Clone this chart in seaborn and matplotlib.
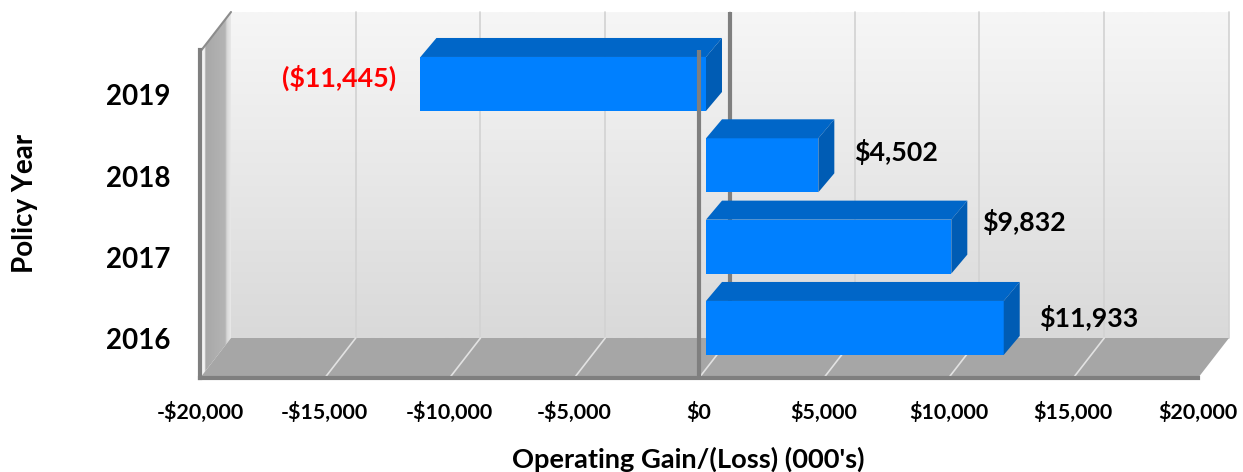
import numpy as np
import pandas as pd
import seaborn as sns
import matplotlib.pyplot as plt
from matplotlib.colors import LinearSegmentedColormap
from matplotlib.patches import Polygon
from matplotlib.transforms import ScaledTranslation, IdentityTransform

# values
years = ["2019", "2018", "2017", "2016"]
gains = [-11445, 4502, 9832, 11933]
bar_labels = ["($11,445)", "$4,502", "$9,832", "$11,933"]
label_colors = ["#ff0000", "#000000", "#000000", "#000000"]
x_ticks = [-20000, -15000, -10000, -5000, 0, 5000, 10000, 15000, 20000]
x_tick_labels = ["-$20,000", "-$15,000", "-$10,000", "-$5,000", "$0",
                 "$5,000", "$10,000", "$15,000", "$20,000"]

# pixel offsets for the data labels, from the bar end
label_dx = [-25, 35, 30, 34]
label_dy = [5, 12, 24, 9]

W, H = 1243, 472
FRONT_L, FRONT_R, FRONT_B, FRONT_T = 200, 1198, 378, 50
DEPTH_X, DEPTH_Y = 31, 40
BAR_DX, BAR_DY = 16, 19

sns.set_style("white")
plt.rcParams["font.family"] = ["Lato", "DejaVu Sans"]
plt.rcParams["font.weight"] = "bold"

df = pd.DataFrame({"year": years, "gain": gains})

fig = plt.figure(figsize=(W / 100, H / 100), dpi=100, facecolor="white")

# back layer in image pixels: wall, side wall, floor
bg = fig.add_axes([0, 0, 1, 1], zorder=0)
bg.set_xlim(0, W)
bg.set_ylim(H, 0)
bg.axis("off")

back_l, back_r = FRONT_L + DEPTH_X, FRONT_R + DEPTH_X
back_t, back_b = 12, FRONT_B - DEPTH_Y

wall_cmap = LinearSegmentedColormap.from_list("wall", ["#f6f6f6", "#e8e8e8", "#d9d9d9"])
wall = np.linspace(0, 1, 256).reshape(-1, 1)
bg.imshow(wall, extent=(back_l, back_r, back_b, back_t), aspect="auto", cmap=wall_cmap, zorder=1)

side_cmap = LinearSegmentedColormap.from_list(
    "side", [(0, "#f6f6f6"), (0.14, "#f2f2f2"), (0.18, "#a8a8a8"), (0.82, "#b4b4b4"),
             (0.88, "#d8d8d8"), (1, "#e8e8e8")])
side = np.linspace(0, 1, 64).reshape(1, -1)
side_img = bg.imshow(side, extent=(FRONT_L, back_l, FRONT_B, back_t), aspect="auto",
                     cmap=side_cmap, zorder=1)
side_poly = Polygon([(FRONT_L, FRONT_T + 2), (back_l, back_t), (back_l, back_b), (FRONT_L, FRONT_B)],
                    transform=bg.transData, fc="none", ec="none")
bg.add_patch(side_poly)
side_img.set_clip_path(side_poly)
bg.set_xlim(0, W)
bg.set_ylim(H, 0)

bg.add_patch(Polygon([(FRONT_L, FRONT_B), (back_l, back_b), (back_r, back_b), (FRONT_R, FRONT_B)],
                     fc="#a6a6a6", ec="none", zorder=2))

# main axes lines up with the front plane of the 3D box
ax = fig.add_axes([FRONT_L / W, 1 - FRONT_B / H, (FRONT_R - FRONT_L) / W, (FRONT_B - FRONT_T) / H],
                  zorder=1)
ax.patch.set_alpha(0)
sns.barplot(data=df, y="year", x="gain", order=years, orient="h", width=0.664,
            color="#0080ff", saturation=1, linewidth=0, ax=ax)
ax.set_xlim(-20000, 20000)
ax.set_ylim(3.48, -0.553)
ax.set_xlabel("")
ax.set_ylabel("")

sns.despine(ax=ax, top=True, right=True)
for s in ["left", "bottom"]:
    ax.spines[s].set_color("#7f7f7f")
    ax.spines[s].set_linewidth(3)

ax.set_xticks(x_ticks)
ax.set_xticklabels(x_tick_labels, fontsize=15.4, fontweight="bold", color="black")
ax.tick_params(axis="x", length=0, pad=17)
ax.tick_params(axis="y", length=0, pad=21, labelsize=20, labelcolor="black")
for t in ax.get_yticklabels():
    t.set_fontweight("bold")

# gridlines on wall and floor, taken from the x ticks
for v in x_ticks:
    px = ax.transData.transform((v, 0))[0]
    if v != -20000:
        bg.plot([px + DEPTH_X, px + DEPTH_X], [back_t, back_b], color="#d2d2d2", lw=1.2, zorder=1.5)
        if v != 20000:
            bg.plot([px, px + DEPTH_X], [FRONT_B, back_b], color="#e2e2e2", lw=1.2, zorder=3)

zero_px = ax.transData.transform((0, 0))[0]
bg.plot([zero_px + DEPTH_X] * 2, [back_t, back_b], color="#7f7f7f", lw=3, zorder=1.6,
        solid_capstyle="butt")
bg.plot([FRONT_L, back_l], [FRONT_T + 2, back_t], color="#8c8c8c", lw=1.5, zorder=3)

# the bars sit a little up and right of the front plane, add the 3D faces
shift = ScaledTranslation(7 / 100, 11 / 100, fig.dpi_scale_trans)
to_px = ax.transData + shift
for bar in list(ax.patches):
    bar.set_transform(to_px)
    bar.set_zorder(4)
    b = bar.get_bbox()
    (x0, y0), (x1, y1) = to_px.transform([(min(b.x0, b.x1), max(b.y0, b.y1)),
                                          (max(b.x0, b.x1), min(b.y0, b.y1))])
    top = Polygon([(x0, y1), (x1, y1), (x1 + BAR_DX, y1 + BAR_DY), (x0 + BAR_DX, y1 + BAR_DY)],
                  transform=IdentityTransform(), fc="#0066c8", ec="none", zorder=4, clip_on=False)
    end = Polygon([(x1, y0), (x1 + BAR_DX, y0 + BAR_DY), (x1 + BAR_DX, y1 + BAR_DY), (x1, y1)],
                  transform=IdentityTransform(), fc="#005cb4", ec="none", zorder=4, clip_on=False)
    ax.add_patch(top)
    ax.add_patch(end)

ax.axvline(0, color="#7f7f7f", lw=3, zorder=5)

for i, (year, val) in enumerate(zip(years, gains)):
    ha = "right" if val < 0 else "left"
    ax.annotate(bar_labels[i], xy=(val, i), xycoords=ax.transData,
                xytext=((label_dx[i] + 8) * 0.72, (label_dy[i] + 12) * 0.72),
                textcoords="offset points", ha=ha, va="center", fontsize=19.3,
                fontweight="bold", color=label_colors[i], zorder=6, annotation_clip=False)

fig.text(688 / W, 1 - 459 / H, "Operating Gain/(Loss) (000's)", ha="center", va="center",
         fontsize=19.6, fontweight="bold", color="black")
fig.text(25 / W, 1 - 203 / H, "Policy Year", ha="center", va="center", rotation=90,
         fontsize=20, fontweight="bold", color="black")

fig.savefig("out.png", dpi=100)
